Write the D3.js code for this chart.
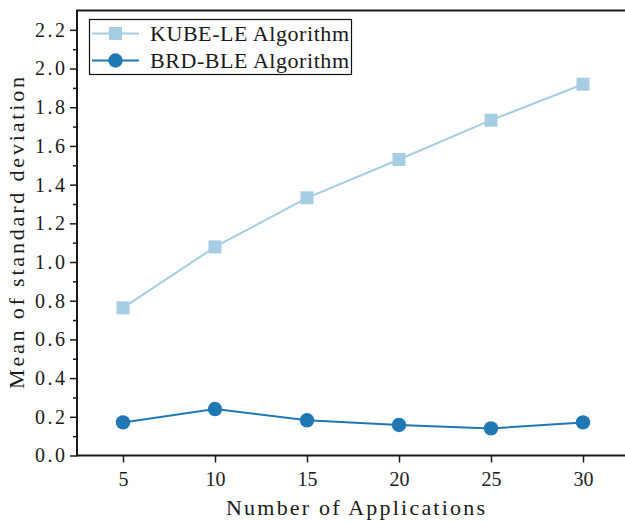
<!DOCTYPE html>
<html>
<head>
<meta charset="utf-8">
<script src="https://cdn.jsdelivr.net/npm/d3@7"></script>
<style>
  html, body { margin: 0; padding: 0; background: #fff; }
  svg { display: block; }
  text { font-family: "Liberation Serif", "DejaVu Serif", serif; fill: #1a1a1a; }
</style>
</head>
<body>
<svg id="chart" width="625" height="522"></svg>
<script>
// ---- data ----
const applications = [5, 10, 15, 20, 25, 30];
const kubeLE = [0.763, 1.078, 1.332, 1.530, 1.733, 1.919];
const brdBLE = [0.171, 0.240, 0.182, 0.158, 0.140, 0.171];
const seriesNames = ["KUBE-LE Algorithm", "BRD-BLE Algorithm"];
const yTicks = [0.0, 0.2, 0.4, 0.6, 0.8, 1.0, 1.2, 1.4, 1.6, 1.8, 2.0, 2.2];
const yMinorTicks = [0.1, 0.3, 0.5, 0.7, 0.9, 1.1, 1.3, 1.5, 1.7, 1.9, 2.1];
const xTicks = [5, 10, 15, 20, 25, 30];
const xLabel = "Number of Applications";
const yLabel = "Mean of standard deviation";

const colors = ["#a6cee3", "#1f78b4"];

const svg = d3.select("#chart");
const x = d3.scaleLinear().domain([2.5, 32.5]).range([77, 629]);
const y = d3.scaleLinear().domain([0, 2.3]).range([455.5, 10.5]);

const axisColor = "#1a1a1a";

// Y axis
const yAxis = d3.axisLeft(y).tickValues(yTicks).tickFormat(d3.format(".1f")).tickSize(7).tickPadding(5);
const gy = svg.append("g").attr("transform", `translate(${x.range()[0]},0)`).call(yAxis);
gy.select(".domain").remove();
gy.selectAll(".tick line").attr("stroke", axisColor).attr("stroke-width", 1.5);
gy.selectAll(".tick text").attr("font-size", 20).attr("fill", "#1a1a1a")
  .attr("textLength", 30).attr("lengthAdjust", "spacing")
  .style("font-family", '"Liberation Serif", serif');
const yMinor = d3.axisLeft(y).tickValues(yMinorTicks).tickFormat("").tickSize(4);
const gym = svg.append("g").attr("transform", `translate(${x.range()[0]},0)`).call(yMinor);
gym.select(".domain").remove();
gym.selectAll(".tick line").attr("stroke", axisColor).attr("stroke-width", 1.5);

// X axis
const xAxis = d3.axisBottom(x).tickValues(xTicks).tickFormat(d3.format("d")).tickSize(7).tickPadding(9);
const gx = svg.append("g").attr("transform", `translate(0,${y(0)})`).call(xAxis);
gx.select(".domain").remove();
gx.selectAll(".tick line").attr("stroke", axisColor).attr("stroke-width", 1.5);
gx.selectAll(".tick text").attr("font-size", 20).attr("fill", "#1a1a1a")
  .style("font-family", '"Liberation Serif", serif');

// Spines
const [x0, x1] = x.range();
const [yb, yt] = y.range();
svg.append("rect").attr("x", x0).attr("y", yt).attr("width", x1 - x0).attr("height", yb - yt)
  .attr("fill", "none").attr("stroke", axisColor).attr("stroke-width", 2);

// Lines
const line = d3.line().x((d, i) => x(applications[i])).y(d => y(d));
const series = [kubeLE, brdBLE];
series.forEach((vals, si) => {
  svg.append("path").datum(vals).attr("d", line).attr("fill", "none")
    .attr("stroke", colors[si]).attr("stroke-width", 2);
});
// Markers
svg.append("g").selectAll("rect").data(kubeLE).join("rect")
  .attr("x", (d, i) => x(applications[i]) - 6.5).attr("y", d => y(d) - 6.5)
  .attr("width", 13).attr("height", 13).attr("fill", colors[0]);
svg.append("g").selectAll("circle").data(brdBLE).join("circle")
  .attr("cx", (d, i) => x(applications[i])).attr("cy", d => y(d))
  .attr("r", 7.2).attr("fill", colors[1]);

// Legend
const lg = svg.append("g");
lg.append("rect").attr("x", 89.5).attr("y", 19.5).attr("width", 262).attr("height", 55)
  .attr("fill", "#fff").attr("stroke", "#111").attr("stroke-width", 1.2);
const rowsY = [33.5, 60.5];
seriesNames.forEach((name, i) => {
  lg.append("line").attr("x1", 92).attr("x2", 139).attr("y1", rowsY[i]).attr("y2", rowsY[i])
    .attr("stroke", colors[i]).attr("stroke-width", 2);
  if (i === 0) {
    lg.append("rect").attr("x", 115.5 - 6.5).attr("y", rowsY[i] - 6.5).attr("width", 13).attr("height", 13).attr("fill", colors[i]);
  } else {
    lg.append("circle").attr("cx", 115.5).attr("cy", rowsY[i]).attr("r", 7.2).attr("fill", colors[i]);
  }
  lg.append("text").attr("x", 150).attr("y", rowsY[i]).attr("dy", "0.35em")
    .attr("font-size", 22).attr("textLength", 199).attr("lengthAdjust", "spacing")
    .text(name);
});

// Axis labels
svg.append("text").attr("x", 355.5).attr("y", 515).attr("text-anchor", "middle")
  .attr("font-size", 22).attr("textLength", 259).attr("lengthAdjust", "spacing").text(xLabel);
svg.append("text").attr("transform", `translate(24,233) rotate(-90)`).attr("text-anchor", "middle")
  .attr("font-size", 22).attr("textLength", 312).attr("lengthAdjust", "spacing").text(yLabel);
</script>
</body>
</html>
